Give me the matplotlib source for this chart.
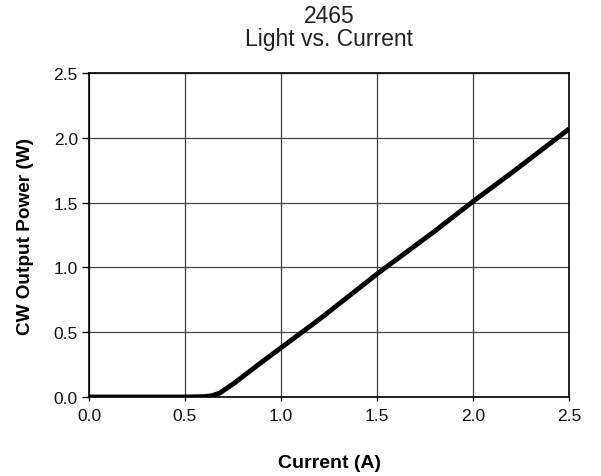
import matplotlib
matplotlib.use("Agg")
import matplotlib.pyplot as plt

plt.rcParams['font.family'] = ['Liberation Sans', 'DejaVu Sans']

# light vs current data
current = [0.0, 0.3, 0.5, 0.6, 0.64, 0.68, 0.75, 0.9, 1.0, 1.2, 1.5, 1.8, 2.0, 2.2, 2.5]
power = [0.0, 0.0, 0.0, 0.003, 0.01, 0.03, 0.1, 0.27, 0.38, 0.6, 0.95, 1.28, 1.51, 1.73, 2.07]

fig = plt.figure(figsize=(6.01, 4.77), dpi=100)
ax = fig.add_axes([0.148, 0.1656, 0.799, 0.679])

ax.plot(current, power, color='black', lw=3.5, solid_capstyle='butt')

ax.set_xlim(0, 2.5)
ax.set_ylim(0, 2.5)
ax.set_xticks([0.0, 0.5, 1.0, 1.5, 2.0, 2.5])
ax.set_yticks([0.0, 0.5, 1.0, 1.5, 2.0, 2.5])
ax.xaxis.set_major_formatter(matplotlib.ticker.FormatStrFormatter('%.1f'))
ax.yaxis.set_major_formatter(matplotlib.ticker.FormatStrFormatter('%.1f'))
ax.grid(True, color='#444444', lw=0.9)
ax.tick_params(axis='x', length=3, width=1, labelsize=12.5, pad=5, colors='#111111')
ax.tick_params(axis='y', length=5, width=1, labelsize=12.5, pad=3, colors='#111111')
for s in ax.spines.values():
    s.set_linewidth(1.2)

ax.set_xlabel('Current (A)', fontsize=14, fontweight='bold', labelpad=22)
ax.set_ylabel('CW Output Power (W)', fontsize=13.7, fontweight='bold', labelpad=14)
ax.set_title('2465\nLight vs. Current', fontsize=16.5, pad=20, color='#222222', linespacing=1.0)

fig.savefig('out.png', dpi=100)
